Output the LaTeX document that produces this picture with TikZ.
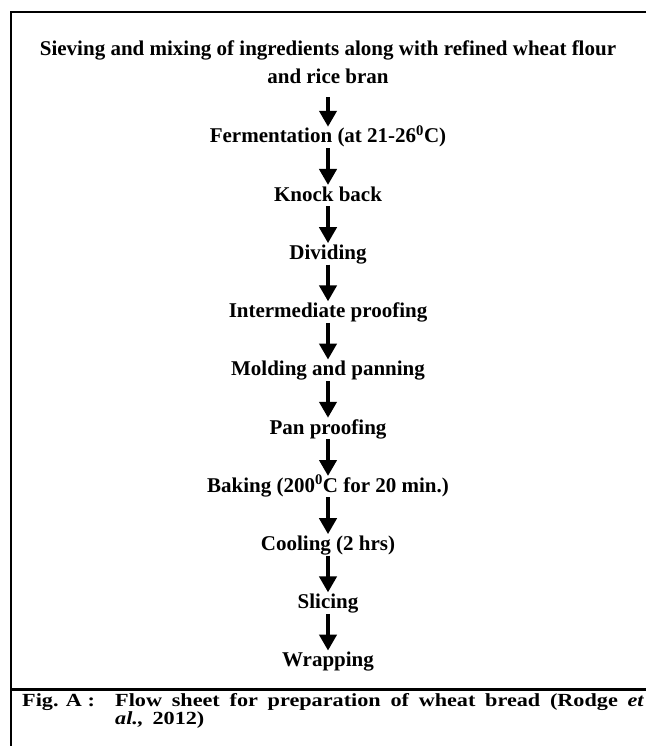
\documentclass[tikz,border=0pt]{standalone}
\usepackage{fontspec}
\setmainfont{Liberation Serif}
\newfontfamily\capfont[FakeStretch=1.2]{Liberation Serif}
\usetikzlibrary{arrows.meta}

\tikzset{
  stepnode/.style={anchor=base, inner sep=0pt, text height=16pt, text depth=5pt,
    font=\fontsize{21}{25}\selectfont\bfseries},
  flowarrow/.style={line width=4pt, -{Triangle[width=17pt,length=16pt]}},
  captext/.style={anchor=base west, inner sep=0pt,
    font=\capfont\bfseries\fontsize{18.5}{17}\selectfont}
}

\begin{document}
\begin{tikzpicture}[x=1pt,y=-1pt]
\useasboundingbox (0,0) rectangle (646,746);
% frame
\draw[line width=2pt] (646,12) -- (11,12) -- (11,746);
\draw[line width=3pt] (11,689) -- (646,689);
% steps
\node[anchor=north, align=center, inner sep=0pt,
  font=\fontsize{21}{28}\selectfont\bfseries] (title) at (328,41)
  {Sieving and mixing of ingredients along with refined wheat flour\\and rice bran};
\foreach \name/\txt [count=\i] in {ferm/{Fermentation (at 21-26\textsuperscript{0}C)},
    knock/{Knock back}, divide/{Dividing}, interproof/{Intermediate proofing},
    mold/{Molding and panning}, panproof/{Pan proofing},
    bake/{Baking (200\textsuperscript{0}C for 20 min.)}, cool/{Cooling (2 hrs)},
    slice/{Slicing}, wrap/{Wrapping}}
  \node[stepnode] (\name) at (328,{143+58.2*(\i-1)}) {\txt};
\draw[flowarrow, shorten <=13pt] (title) -- (ferm);
\foreach \a/\b in {ferm/knock, knock/divide, divide/interproof, interproof/mold,
    mold/panproof, panproof/bake, bake/cool, cool/slice, slice/wrap}
  \draw[flowarrow] (\a) -- (\b);
% caption
\node[captext] (figlabel) at (22,706) {Fig. A :};
\node[captext] (capone) at (115,706)
  {\makebox[529pt][s]{Flow sheet for preparation of wheat bread (Rodge \textit{et}}};
\node[captext] (captwo) at (115,724) {\textit{al.,}\hspace{9pt}2012)};
\end{tikzpicture}
\end{document}
